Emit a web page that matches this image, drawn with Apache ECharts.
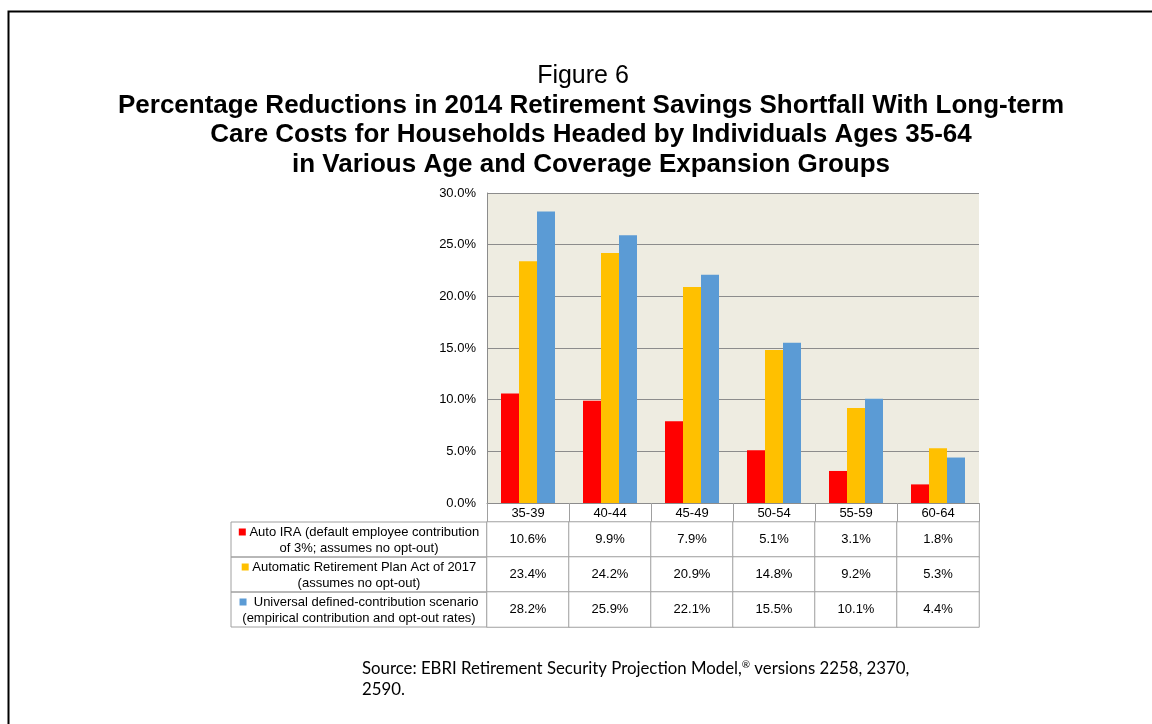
<!DOCTYPE html>
<html>
<head>
<meta charset="utf-8">
<script src="https://cdn.jsdelivr.net/npm/echarts@6/dist/echarts.min.js"></script>
<style>
html,body{margin:0;padding:0;background:#fff;}
#chart{width:1152px;height:724px;}
</style>
</head>
<body>
<div id="chart"></div>
<script>
var categories = ['35-39', '40-44', '45-49', '50-54', '55-59', '60-64'];
var autoIRA = [10.6, 9.9, 7.9, 5.1, 3.1, 1.8];
var arpa2017 = [23.4, 24.2, 20.9, 14.8, 9.2, 5.3];
var universalDC = [28.2, 25.9, 22.1, 15.5, 10.1, 4.4];
var seriesNames = [
  'Auto IRA (default employee contribution of 3%; assumes no opt-out)',
  'Automatic Retirement Plan Act of 2017 (assumes no opt-out)',
  'Universal defined-contribution scenario (empirical contribution and opt-out rates)'
];
var rowLabels = [
  ['Auto IRA (default employee contribution', 'of 3%; assumes no opt-out)'],
  ['Automatic Retirement Plan Act of 2017', '(assumes no opt-out)'],
  [' Universal defined-contribution scenario', '(empirical contribution and opt-out rates)']
];
var colors = ['#FF0000', '#FFC000', '#5B9BD5'];
var yTicks = [0, 5, 10, 15, 20, 25, 30];
var titleTop = 'Figure 6';
var titleMain = 'Percentage Reductions in 2014 Retirement Savings Shortfall With Long-term\nCare Costs for Households Headed by Individuals Ages 35-64\nin Various Age and Coverage Expansion Groups';
var sourceLine1a = 'Source: EBRI Retirement Security Projection Model,';
var sourceMark = '\u00AE';
var sourceLine1b = ' versions 2258, 2370,';
var sourceLine2 = '2590.';

var allSeries = [autoIRA, arpa2017, universalDC];
var tableData = [];
allSeries.forEach(function (arr, r) {
  arr.forEach(function (v, c) { tableData.push([c, r, v]); });
});
var sqKeys = ['r', 'y', 'b'];
var yLabelData = rowLabels.map(function (lines, i) {
  return '{' + sqKeys[i] + '|}{t| ' + lines[0] + '}\n{t|' + lines[1] + '}';
});

var chart = echarts.init(document.getElementById('chart'), null, {renderer: 'canvas'});
var gridColor = '#8C8C8C';
var tableColor = '#A0A0A0';
var font = 'Liberation Sans, Arial, sans-serif';
var fs = 13;

var option = {
  backgroundColor: '#ffffff',
  animation: false,
  title: [
    {
      text: titleTop, left: 578, top: 59, textAlign: 'center',
      textStyle: {fontFamily: font, fontSize: 25, fontWeight: 'normal', color: '#000'}
    },
    {
      text: titleMain, left: 586, top: 86, textAlign: 'center',
      textStyle: {fontFamily: font, fontSize: 26, fontWeight: 'bold', color: '#000', lineHeight: 29.5}
    }
  ],
  grid: [
    {left: 487, right: 173, top: 193, height: 310, show: true, backgroundColor: '#EEECE1', borderWidth: 0},
    {left: 487, right: 173, top: 522, height: 105, show: false}
  ],
  xAxis: [
    {
      type: 'category', gridIndex: 0, data: categories,
      axisLine: {show: true, lineStyle: {color: gridColor, width: 1}},
      axisTick: {show: true, length: 19, interval: 0, alignWithLabel: false, lineStyle: {color: tableColor}},
      axisLabel: {margin: 4, fontFamily: font, fontSize: fs, color: '#000', interval: 0}
    },
    {
      type: 'category', gridIndex: 1, data: categories,
      axisLine: {show: false}, axisTick: {show: false}, axisLabel: {show: false}
    }
  ],
  yAxis: [
    {
      type: 'value', gridIndex: 0, min: 0, max: 30, interval: 5,
      axisLine: {show: true, lineStyle: {color: gridColor}},
      axisTick: {show: false},
      splitLine: {show: true, lineStyle: {color: gridColor, width: 1}},
      axisLabel: {
        margin: 11, fontFamily: font, fontSize: fs, color: '#000',
        formatter: function (v) { return yTicks.indexOf(v) >= 0 ? v.toFixed(1) + '%' : ''; }
      }
    },
    {
      type: 'category', gridIndex: 1, data: yLabelData, inverse: true,
      axisLine: {show: false}, axisTick: {show: false}, splitLine: {show: false},
      axisLabel: {
        interval: 0, margin: 0,
        width: 256, height: 33, padding: [2, 0, 0, 0],
        borderColor: tableColor, borderWidth: 1,
        rich: {
          r: {align: 'center', width: 7, height: 7, backgroundColor: colors[0]},
          y: {align: 'center', width: 7, height: 7, backgroundColor: colors[1]},
          b: {align: 'center', width: 7, height: 7, backgroundColor: colors[2]},
          t: {align: 'center', fontFamily: font, fontSize: fs, color: '#000', lineHeight: 16}
        }
      }
    }
  ],
  visualMap: {
    show: false, seriesIndex: 3, min: 0, max: 100,
    inRange: {color: ['#ffffff', '#ffffff']}
  },
  series: [
    {name: seriesNames[0], type: 'bar', data: autoIRA, barWidth: 18, barGap: '0%', itemStyle: {color: colors[0]}},
    {name: seriesNames[1], type: 'bar', data: arpa2017, barWidth: 18, barGap: '0%', itemStyle: {color: colors[1]}},
    {name: seriesNames[2], type: 'bar', data: universalDC, barWidth: 18, barGap: '0%', itemStyle: {color: colors[2]}},
    {
      type: 'heatmap', xAxisIndex: 1, yAxisIndex: 1, data: tableData,
      itemStyle: {color: '#ffffff', borderColor: tableColor, borderWidth: 1},
      label: {
        show: true, fontFamily: font, fontSize: fs, color: '#000',
        formatter: function (p) { return p.value[2].toFixed(1) + '%'; }
      },
      emphasis: {disabled: true}
    }
  ],
  graphic: [
    {
      type: 'rect', left: 6, top: 9, silent: true,
      shape: {x: 0, y: 0, width: 1300, height: 900},
      style: {fill: 'none', stroke: '#000', lineWidth: 2}
    },
    {
      type: 'text', left: 362, top: 660, silent: true,
      style: {
        text: '{m|' + sourceLine1a + '}{s|' + sourceMark + '}{m|' + sourceLine1b + '}\n{m|' + sourceLine2 + '}',
        rich: {
          m: {fontFamily: 'Lato, Open Sans, sans-serif', fontSize: 16.8, fill: '#000', lineHeight: 21},
          s: {fontFamily: 'Lato, Open Sans, sans-serif', fontSize: 10, fill: '#000', lineHeight: 21, padding: [0, 0, 7, 0]}
        }
      }
    }
  ]
};
chart.setOption(option);
</script>
</body>
</html>
